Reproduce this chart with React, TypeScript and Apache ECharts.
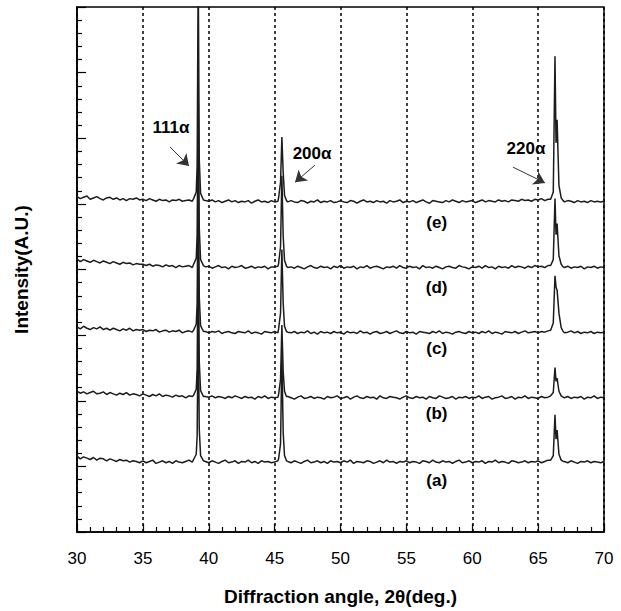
import React, { useEffect, useRef } from 'react';
import * as echarts from 'echarts';

// Background scan: 2θ from 30° in 0.25° steps (161 points)
const scanStart = 30;
const scanStep = 0.25;

// Stacking offsets of the five patterns (a)..(e)
const offsets = [10.65, 20.45, 30.35, 40.3, 50.3];

// Background intensities relative to each offset, one row per 5°
const bgA = [
  0.9, 0.5, 0.8, 0.6, 0.4, 0.7, 0.3, 0.6, 0.5, 0.2, 0.5, 0.3, 0.1, 0.4, 0.2, 0.3, 0.0, 0.2, 0.1, -0.1,
  0.2, -0.1, 0.1, 0.3, -0.2, 0.0, 0.2, -0.1, 0.1, -0.2, 0.2, 0.0, -0.1, 0.1, 0.3, 0.0, 0.0, 0.0, 0.0, 0.1,
  -0.1, 0.2, 0.0, -0.2, 0.1, 0.3, -0.1, 0.0, 0.2, -0.2, 0.1, 0.0, 0.3, -0.1, 0.1, -0.2, 0.2, 0.0, 0.1, -0.1,
  0.0, 0.2, 0.0, 0.0, 0.1, -0.1, 0.2, 0.0, -0.2, 0.1, 0.3, -0.1, 0.0, 0.2, -0.1, 0.1, -0.2, 0.2, 0.0, 0.1,
  -0.1, 0.2, 0.0, 0.3, -0.2, 0.1, 0.0, -0.1, 0.2, 0.1, -0.2, 0.0, 0.2, -0.1, 0.3, 0.0, 0.1, -0.2, 0.1, 0.0,
  0.2, -0.1, 0.1, 0.0, -0.2, 0.2, 0.1, -0.1, 0.3, 0.0, -0.1, 0.2, 0.0, 0.1, -0.2, 0.1, 0.3, -0.1, 0.0, 0.2,
  -0.1, 0.1, 0.0, 0.2, -0.2, 0.1, 0.0, 0.3, -0.1, 0.1, 0.0, -0.2, 0.2, 0.1, -0.1, 0.0, 0.2, -0.1, 0.1, 0.0,
  0.2, -0.1, 0.1, 0.3, 0.0, 0.0, 0.0, 0.0, 0.1, -0.1, 0.2, 0.0, -0.2, 0.1, 0.0, 0.2, -0.1, 0.1, 0.0, -0.1,
  0.1,
];
const bgB = [
  1.0, 0.7, 0.9, 0.6, 0.8, 1.0, 0.6, 0.7, 0.9, 0.5, 0.8, 0.6, 0.4, 0.7, 0.5, 0.8, 0.4, 0.6, 0.5, 0.3,
  0.6, 0.4, 0.2, 0.5, 0.3, 0.6, 0.2, 0.4, 0.3, 0.1, 0.4, 0.2, 0.3, 0.0, 0.3, 0.2, 0.0, 0.0, 0.0, 0.2,
  0.1, 0.3, 0.0, 0.2, 0.1, -0.1, 0.2, 0.0, 0.3, 0.1, -0.1, 0.2, 0.0, 0.1, -0.2, 0.2, 0.0, 0.3, -0.1, 0.1,
  0.0, 0.1, 0.0, 0.0, 0.2, 0.0, -0.2, 0.1, 0.3, -0.1, 0.0, 0.2, -0.1, 0.1, 0.0, -0.2, 0.2, 0.0, 0.1, 0.3,
  -0.1, 0.0, 0.2, -0.2, 0.1, 0.3, 0.0, -0.1, 0.2, 0.0, 0.1, -0.2, 0.3, 0.0, -0.1, 0.2, 0.1, 0.0, -0.2, 0.1,
  0.3, 0.0, -0.1, 0.2, 0.0, 0.1, -0.2, 0.2, 0.0, -0.1, 0.3, 0.1, -0.1, 0.0, 0.2, -0.2, 0.1, 0.0, 0.2, -0.1,
  0.1, 0.0, 0.3, -0.1, 0.1, 0.2, -0.2, 0.0, 0.1, 0.3, -0.1, 0.0, 0.2, -0.2, 0.1, 0.0, 0.3, -0.1, 0.1, 0.0,
  -0.1, 0.2, 0.0, 0.1, 0.0, 0.0, 0.0, 0.0, 0.0, 0.2, -0.1, 0.1, 0.0, 0.2, -0.2, 0.1, 0.0, 0.3, -0.1, 0.1,
  0.0,
];
const bgC = [
  0.9, 0.6, 1.0, 0.7, 0.5, 0.8, 0.6, 0.9, 0.5, 0.7, 0.4, 0.7, 0.5, 0.3, 0.6, 0.4, 0.7, 0.3, 0.5, 0.4,
  0.5, 0.2, 0.4, 0.3, 0.5, 0.1, 0.3, 0.4, 0.1, 0.3, 0.2, 0.4, 0.0, 0.2, 0.3, 0.1, 0.0, 0.0, 0.0, 0.2,
  0.0, 0.2, 0.1, 0.3, -0.1, 0.1, 0.2, 0.0, -0.1, 0.2, 0.1, 0.0, 0.3, -0.1, 0.1, 0.0, -0.2, 0.2, 0.1, 0.0,
  0.2, 0.0, 0.0, 0.0, 0.1, 0.0, 0.2, -0.1, 0.1, 0.0, 0.3, -0.1, 0.1, -0.2, 0.2, 0.0, 0.1, -0.1, 0.2, 0.0,
  0.1, -0.2, 0.2, 0.0, 0.1, -0.1, 0.3, 0.0, 0.1, -0.2, 0.1, 0.2, -0.1, 0.0, 0.2, -0.1, 0.1, 0.3, 0.0, -0.1,
  0.2, 0.0, 0.1, -0.2, 0.2, 0.1, 0.0, -0.1, 0.2, 0.0, 0.3, -0.1, 0.1, 0.0, -0.2, 0.1, 0.2, 0.0, -0.1, 0.2,
  0.0, 0.1, -0.1, 0.2, 0.0, 0.3, -0.1, 0.1, 0.0, -0.2, 0.2, 0.1, 0.0, 0.2, -0.1, 0.1, 0.3, 0.0, 0.1, 0.2,
  0.0, 0.2, 0.1, 0.3, 0.0, 0.0, 0.0, 0.0, 0.0, 0.1, 0.3, 0.0, 0.2, -0.1, 0.1, 0.0, 0.2, -0.1, 0.1, 0.0,
  0.1,
];
const bgD = [
  1.3, 0.9, 1.2, 1.0, 0.8, 1.1, 0.9, 0.7, 1.0, 0.8, 0.6, 0.9, 0.7, 0.5, 0.8, 0.6, 0.7, 0.4, 0.6, 0.5,
  0.5, 0.3, 0.5, 0.2, 0.4, 0.3, 0.1, 0.4, 0.2, 0.3, 0.0, 0.3, 0.1, 0.2, 0.3, 0.0, 0.0, 0.0, 0.0, 0.1,
  0.2, -0.1, 0.1, 0.3, 0.0, 0.1, -0.2, 0.2, 0.0, 0.1, 0.3, -0.1, 0.0, 0.2, -0.1, 0.1, 0.0, 0.2, -0.2, 0.1,
  0.1, 0.2, 0.0, 0.0, 0.0, 0.1, -0.1, 0.2, 0.0, -0.2, 0.1, 0.3, 0.0, -0.1, 0.2, 0.0, 0.1, -0.2, 0.2, 0.0,
  0.3, -0.1, 0.1, 0.0, 0.2, -0.2, 0.1, 0.0, 0.3, -0.1, 0.1, 0.2, 0.0, -0.2, 0.1, 0.0, 0.2, -0.1, 0.3, 0.0,
  -0.1, 0.2, 0.0, 0.1, -0.2, 0.3, 0.0, 0.1, -0.1, 0.2, 0.0, -0.2, 0.1, 0.2, 0.0, -0.1, 0.3, 0.1, 0.0, -0.2,
  0.1, 0.0, 0.2, -0.1, 0.3, 0.0, 0.1, -0.2, 0.2, 0.0, 0.1, -0.1, 0.3, 0.0, 0.2, 0.1, -0.1, 0.2, 0.0, 0.3,
  0.1, 0.2, 0.0, 0.3, 0.2, 0.0, 0.0, 0.0, 0.0, 0.2, -0.1, 0.1, 0.0, 0.2, -0.2, 0.1, 0.0, 0.2, -0.1, 0.1,
  0.0,
];
const bgE = [
  0.8, 0.5, 0.7, 0.9, 0.4, 0.6, 0.8, 0.5, 0.3, 0.6, 0.7, 0.4, 0.6, 0.3, 0.5, 0.2, 0.5, 0.4, 0.6, 0.3,
  0.4, 0.2, 0.5, 0.3, 0.1, 0.4, 0.2, 0.3, 0.0, 0.3, 0.2, 0.4, 0.1, 0.2, 0.3, 0.1, 0.0, 0.0, 0.0, 0.2,
  0.1, 0.3, 0.0, 0.2, -0.1, 0.1, 0.3, 0.0, 0.2, -0.1, 0.1, 0.0, 0.2, -0.2, 0.1, 0.3, 0.0, 0.1, -0.1, 0.2,
  0.0, 0.1, 0.0, 0.0, 0.0, 0.2, 0.0, -0.1, 0.2, 0.1, -0.2, 0.1, 0.0, 0.3, -0.1, 0.1, 0.0, 0.2, -0.1, 0.0,
  0.2, 0.0, -0.1, 0.2, 0.1, -0.2, 0.1, 0.3, 0.0, 0.1, -0.1, 0.2, 0.0, 0.1, -0.2, 0.2, 0.0, 0.1, 0.3, -0.1,
  0.1, 0.0, 0.2, -0.1, 0.1, 0.3, 0.0, -0.2, 0.2, 0.1, 0.0, -0.1, 0.2, 0.0, 0.3, 0.1, -0.1, 0.2, 0.0, 0.1,
  0.2, -0.1, 0.1, 0.3, 0.0, 0.2, 0.1, 0.0, 0.3, 0.1, 0.2, 0.0, 0.3, 0.2, 0.1, 0.4, 0.2, 0.3, 0.1, 0.4,
  0.3, 0.5, 0.2, 0.4, 0.0, 0.0, 0.0, 0.0, 0.0, 0.2, 0.1, -0.1, 0.2, 0.0, 0.1, -0.1, 0.2, 0.0, 0.1, 0.0,
  0.1,
];

// Peak profiles: 111α, 200α, 220α (angles shared, intensities relative to offset)
const peak111Angles = [38.85, 39.05, 39.12, 39.2, 39.28, 39.38, 39.6];
const peak200Angles = [45.3, 45.45, 45.55, 45.65, 45.75, 45.9];
const peak220Angles = [65.95, 66.15, 66.28, 66.36, 66.44, 66.58, 66.75, 66.9];

const peak111 = [
  [0.4, 1.2, 4.0, 22.5, 5.0, 1.0, 0.2],
  [0.4, 1.3, 4.5, 25.0, 5.5, 1.1, 0.2],
  [0.4, 1.3, 4.5, 26.5, 5.5, 1.1, 0.2],
  [0.5, 1.4, 5.0, 27.4, 6.0, 1.2, 0.3],
  [0.5, 1.5, 5.5, 36.0, 6.5, 1.3, 0.3],
];
const peak200 = [
  [0.5, 2.8, 16.3, 4.5, 1.0, 0.2],
  [0.5, 2.8, 11.1, 4.0, 1.0, 0.2],
  [0.6, 3.0, 12.7, 4.5, 1.0, 0.2],
  [0.6, 3.2, 14.0, 4.8, 1.1, 0.2],
  [0.6, 3.0, 9.9, 4.5, 1.0, 0.2],
];
const peak220 = [
  [0.3, 1.0, 7.2, 3.5, 4.9, 1.2, 0.3, 0.1],
  [0.3, 0.8, 4.6, 2.5, 3.0, 1.0, 0.3, 0.1],
  [0.4, 1.5, 8.7, 7.0, 6.5, 3.0, 0.8, 0.2],
  [0.3, 1.2, 10.5, 5.0, 6.7, 1.8, 0.5, 0.1],
  [0.4, 1.5, 22.2, 9.0, 12.5, 2.5, 0.6, 0.2],
];

const backgrounds = [bgA, bgB, bgC, bgD, bgE];
const traceNames = ['(a)', '(b)', '(c)', '(d)', '(e)'];
const traceLabelX = 57.3;
const traceLabelY = [7.9, 18.1, 27.9, 37.2, 47.2];

const peakNames = ['111α', '200α', '220α'];
const peakLabelX = [37.13, 47.84, 64.08];
const peakLabelY = [61.7, 57.75, 58.4];
const arrowTailX = [37.06, 48.06, 63.09];
const arrowTailY = [58.67, 55.9, 55.6];
const arrowHeadX = [38.5, 46.55, 65.52];
const arrowHeadY = [55.77, 53.3, 53.2];

const FONT = '"Liberation Sans", Arial, Helvetica, sans-serif';

function buildTrace(k: number): number[][] {
  const windows = [peak111Angles, peak200Angles, peak220Angles].map((a) => [a[0], a[a.length - 1]]);
  const pts: number[][] = [];
  backgrounds[k].forEach((v, i) => {
    const x = scanStart + i * scanStep;
    if (windows.some(([s, e]) => x > s && x < e)) return;
    pts.push([x, offsets[k] + v]);
  });
  peak111Angles.forEach((x, i) => pts.push([x, offsets[k] + peak111[k][i]]));
  peak200Angles.forEach((x, i) => pts.push([x, offsets[k] + peak200[k][i]]));
  peak220Angles.forEach((x, i) => pts.push([x, offsets[k] + peak220[k][i]]));
  pts.sort((p, q) => p[0] - q[0]);
  return pts;
}

export default function App() {
  const ref = useRef<HTMLDivElement>(null);
  useEffect(() => {
    const chart = echarts.init(ref.current!, null, { renderer: 'svg' });
    const lineSeries = backgrounds.map((_, k) => ({
      type: 'line',
      name: traceNames[k],
      data: buildTrace(k),
      showSymbol: false,
      symbol: 'none',
      clip: true,
      z: 3,
      lineStyle: { color: '#1c1c1c', width: 1.5 },
    }));
    const labelStyle = {
      show: true, position: 'inside', formatter: (p: any) => p.name,
      fontSize: 17, fontWeight: 'bold', color: '#000', fontFamily: FONT,
    };
    chart.setOption({
      animation: false,
      backgroundColor: '#fff',
      textStyle: { fontFamily: FONT },
      grid: {
        left: 77, right: 17, top: 7, bottom: 79,
        show: true, borderColor: '#000', borderWidth: 1.5, backgroundColor: 'transparent',
      },
      xAxis: {
        type: 'value', min: 30, max: 70, interval: 5,
        name: 'Diffraction angle, 2θ(deg.)',
        nameLocation: 'middle', nameGap: 55,
        nameTextStyle: { fontSize: 19, fontWeight: 'bold', color: '#000', fontFamily: FONT },
        axisLine: { show: true, onZero: false, lineStyle: { color: '#000', width: 1.5 } },
        axisTick: { show: true, inside: true, length: 8, lineStyle: { color: '#000', width: 1.2 } },
        minorTick: { show: true, splitNumber: 5, length: 5, lineStyle: { color: '#000', width: 1.2 } },
        axisLabel: { fontSize: 17, color: '#000', margin: 18, fontFamily: FONT },
        splitLine: { show: true, lineStyle: { color: '#000', width: 1.5, type: [3, 3] } },
      },
      yAxis: {
        type: 'value', min: 0, max: 80, interval: 10,
        name: 'Intensity(A.U.)',
        nameLocation: 'middle', nameGap: 46,
        nameTextStyle: { fontSize: 19, fontWeight: 'bold', color: '#000', fontFamily: FONT },
        axisLine: { show: true, onZero: false, lineStyle: { color: '#000', width: 1.5 } },
        axisTick: { show: true, inside: true, length: 9, lineStyle: { color: '#000', width: 1.2 } },
        minorTick: { show: true, splitNumber: 5, length: 5, lineStyle: { color: '#000', width: 1.2 } },
        axisLabel: { show: false },
        splitLine: { show: false },
      },
      series: [
        ...lineSeries,
        {
          type: 'scatter',
          symbolSize: 0,
          silent: true,
          z: 5,
          itemStyle: { opacity: 1 },
          data: traceNames.map((n, i) => ({ value: [traceLabelX, traceLabelY[i]], name: n })),
          label: labelStyle,
        },
        {
          type: 'scatter',
          symbolSize: 0,
          silent: true,
          z: 5,
          itemStyle: { opacity: 1 },
          data: peakNames.map((n, i) => ({ value: [peakLabelX[i], peakLabelY[i]], name: n })),
          label: labelStyle,
          markLine: {
            silent: true,
            symbol: ['none', 'arrow'],
            symbolSize: 11,
            label: { show: false },
            lineStyle: { color: '#333', width: 1, type: 'solid', opacity: 1 },
            data: peakNames.map((_, i) => [
              { coord: [arrowTailX[i], arrowTailY[i]] },
              { coord: [arrowHeadX[i], arrowHeadY[i]] },
            ]),
          },
        },
      ],
    });
    return () => chart.dispose();
  }, []);
  return (
    <div
      ref={ref}
      style={{ position: 'absolute', left: 0, top: 0, width: 621, height: 611, background: '#fff' }}
    />
  );
}
